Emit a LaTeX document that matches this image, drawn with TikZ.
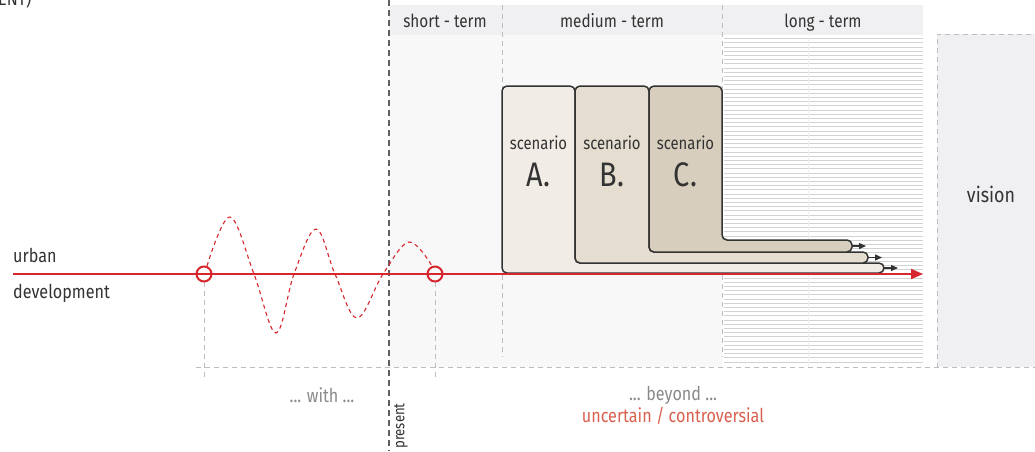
\documentclass[tikz,border=0pt]{standalone}
\usepackage{fontspec}
\setmainfont{Fira Sans}[FakeStretch=0.85]
\usetikzlibrary{arrows.meta}
\definecolor{hdr}{HTML}{F0F0F2}
\definecolor{zone}{HTML}{F8F8F8}
\definecolor{redl}{HTML}{D7262E}
\definecolor{redt}{HTML}{D9604F}
\definecolor{scA}{HTML}{F1EDE6}
\definecolor{scB}{HTML}{E4DDD0}
\definecolor{scC}{HTML}{D7CEBE}
\definecolor{ink}{HTML}{333333}
\definecolor{grayt}{HTML}{8A8A8A}
\definecolor{hatchc}{HTML}{D2D2D2}
\definecolor{dashc}{HTML}{BDBDBD}
\definecolor{presc}{HTML}{606060}
\begin{document}
\begin{tikzpicture}[x=1pt,y=-1pt,
  lbl/.style={inner sep=0pt, text=ink, font=\fontsize{19}{19}\selectfont},
  hdrtxt/.style={inner sep=0pt, text=ink, font=\fontsize{18}{18}\selectfont, anchor=base},
  sctxt/.style={inner sep=0pt, text=ink, font=\fontsize{17.5}{17.5}\selectfont, anchor=base},
  scletter/.style={inner sep=0pt, text=ink, font=\fontsize{34}{34}\selectfont, anchor=base},
  graytxt/.style={inner sep=0pt, text=grayt, font=\fontsize{19}{19}\selectfont},
  lightdash/.style={draw=dashc, line width=0.8, dash pattern=on 5 off 4},
  presentdash/.style={draw=presc, line width=1.2, dash pattern=on 6 off 4},
  scbox/.style={draw=ink, line width=1.5, rounded corners=5},
  scarrow/.style={draw=ink, line width=1.4, -{Triangle[length=7,width=6]}},
  ring/.style={circle, draw=redl, line width=2, minimum size=15, inner sep=0}
]
\clip (0,0) rectangle (1035,451);
\fill[white] (0,0) rectangle (1035,451);

% top-left cut text
\node[anchor=base west, inner sep=0, text=ink, font=\fontsize{19}{19}\selectfont] (cut) at (-2,5) {ENT)};

% zones
\fill[zone] (389,35) rectangle (722,367);
\fill[hdr] (389,5) rectangle (923,35);
\foreach \yy in {38.5,42.7,...,366} \draw[hatchc, line width=0.8] (724,\yy) -- (923,\yy);
\draw[white!94!black, line width=0.6] (808,38) -- (808,367);

% vision box
\fill[hdr] (937,34) rectangle (1040,367);
\draw[lightdash] (1040,34) -- (937,34) -- (937,367);

% guide lines
\draw[lightdash] (502,5) -- (502,357);
\draw[lightdash] (722,5) -- (722,357);
\draw[lightdash] (196,367) -- (1035,367);
\draw[lightdash] (204,282) -- (204,378);
\draw[lightdash] (435,282) -- (435,378);
\draw[presentdash] (389,0) -- (389,451);

% headers
\node[hdrtxt] (hs) at (445,27) {short - term};
\node[hdrtxt] (hm) at (612,27) {medium - term};
\node[hdrtxt] (hl) at (823,27) {long - term};

% scenarios
\draw[scbox, fill=scA] (502,273) -- (502,86) -- (575,86) -- (575,263) -- (884,263) -- (884,273) -- cycle;
\draw[scbox, fill=scB] (575,263) -- (575,86) -- (649,86) -- (649,252) -- (868,252) -- (868,263) -- cycle;
\draw[scbox, fill=scC] (649,252) -- (649,86) -- (722,86) -- (722,240) -- (852,240) -- (852,252) -- cycle;
\node[sctxt] (sA) at (538.5,149) {scenario};
\node[sctxt] (sB) at (612,149) {scenario};
\node[sctxt] (sC) at (685.5,149) {scenario};
\node[scletter] (lA) at (538.5,186) {A.};
\node[scletter] (lB) at (612,186) {B.};
\node[scletter] (lC) at (685.5,186) {C.};
\coordinate (eA) at (884,268);
\coordinate (eB) at (868,257.5);
\coordinate (eC) at (852,246);
\coordinate (tA) at (898,268);
\coordinate (tB) at (882,257.5);
\coordinate (tC) at (866,246);
\draw[scarrow] (eA) -- (tA);
\draw[scarrow] (eB) -- (tB);
\draw[scarrow] (eC) -- (tC);

% main line
\coordinate (start) at (13,274);
\coordinate (goal) at (923,274);
\draw[redl, line width=2, -{Triangle[length=12,width=10]}] (start) -- (goal);
\node[ring] (c1) at (204,274) {};
\node[ring] (c2) at (435,274) {};
\draw[redl, line width=1.1, dash pattern=on 4 off 3.5]
  plot[smooth, tension=0.6] coordinates {(207,266) (230,217) (254,274) (276,333) (294,274) (316,229) (335,274) (357,318) (383,274) (409,242) (432,266)};

% labels
\node[lbl, anchor=base west] (urban) at (13,262) {urban};
\node[lbl, anchor=base west] (dev) at (13,298) {development};
\node[inner sep=0, text=ink, font=\fontsize{21}{21}\selectfont, anchor=center] (vision) at (991,194) {vision};
\node[graytxt, anchor=center] (with) at (322,395) {... with ...};
\node[graytxt, anchor=center] (beyond) at (673,395) {... beyond ...};
\node[inner sep=0, text=redt, font=\fontsize{19}{19}\selectfont, anchor=center] (unc) at (673,416) {uncertain / controversial};
\node[inner sep=0, text=ink, font=\fontsize{15.5}{15.5}\selectfont, rotate=90, anchor=center] (present) at (401,426) {present};
\end{tikzpicture}
\end{document}
